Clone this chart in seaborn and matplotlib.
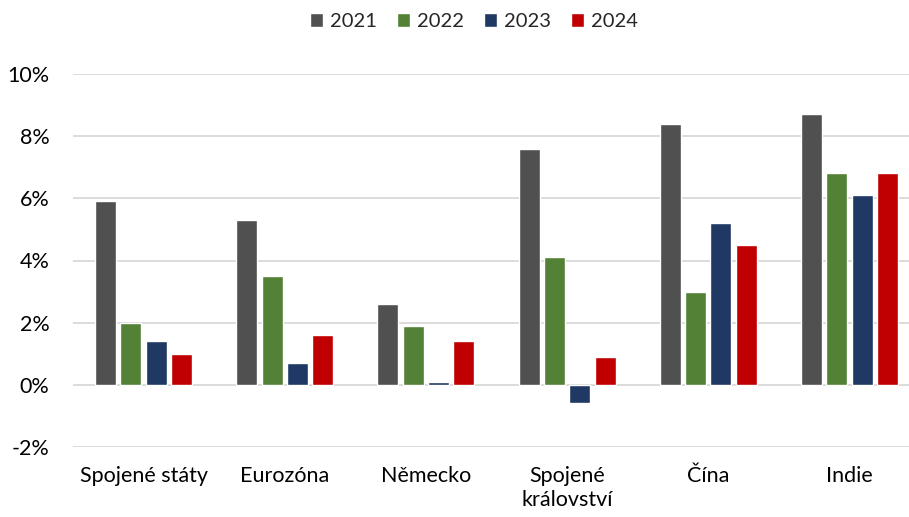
import matplotlib
matplotlib.use("Agg")
import matplotlib.pyplot as plt
import seaborn as sns
import pandas as pd
from matplotlib.ticker import FuncFormatter

categories = ["Spojené státy", "Eurozóna", "Německo", "Spojené\nkrálovství", "Čína", "Indie"]
years = ["2021", "2022", "2023", "2024"]
v2021 = [5.9, 5.3, 2.6, 7.6, 8.4, 8.7]
v2022 = [2.0, 3.5, 1.9, 4.1, 3.0, 6.8]
v2023 = [1.4, 0.7, 0.1, -0.6, 5.2, 6.1]
v2024 = [1.0, 1.6, 1.4, 0.9, 4.5, 6.8]
colors = ["#505050", "#538135", "#1F3864", "#C00000"]

rows = []
for y, vals in zip(years, [v2021, v2022, v2023, v2024]):
    for c, v in zip(categories, vals):
        rows.append({"cat": c, "year": y, "val": v})
df = pd.DataFrame(rows)

sns.set_style("white")
plt.rcParams["font.family"] = ["Lato", "DejaVu Sans"]

fig = plt.figure(figsize=(9.09, 5.17), dpi=100)
ax = fig.add_axes([73/909, 1-447/517, (920-73)/909, (447-74)/517])

sns.barplot(data=df, x="cat", y="val", hue="year", order=categories, hue_order=years,
            palette=colors, width=0.717, gap=0.17, ax=ax, saturation=1, legend=True)

ax.set_xlim(-0.5, 5.5)
ax.set_ylim(-2, 10)
ax.set_yticks(range(-2, 11, 2))
ax.yaxis.set_major_formatter(FuncFormatter(lambda v, p: f"{int(v)}%"))
ax.grid(axis="y", color="#d9d9d9", linewidth=1.3)
ax.set_axisbelow(True)
for s in ax.spines.values():
    s.set_visible(False)
ax.tick_params(axis="both", length=0, labelsize=15.5, colors="black")
ax.tick_params(axis="y", pad=17)
ax.tick_params(axis="x", pad=14)
for t in ax.get_xticklabels():
    t.set_linespacing(1.25)
ax.set_xlabel("")
ax.set_ylabel("")

handles, labels = ax.get_legend_handles_labels()
ax.legend(handles, labels, loc="upper center", bbox_to_anchor=(474/909, 1.0), bbox_transform=fig.transFigure,
          ncol=4, frameon=False, fontsize=14.5, handlelength=0.65, handleheight=0.65,
          handletextpad=0.35, columnspacing=1.0, borderaxespad=0.25)

fig.savefig("out.png", dpi=100)
